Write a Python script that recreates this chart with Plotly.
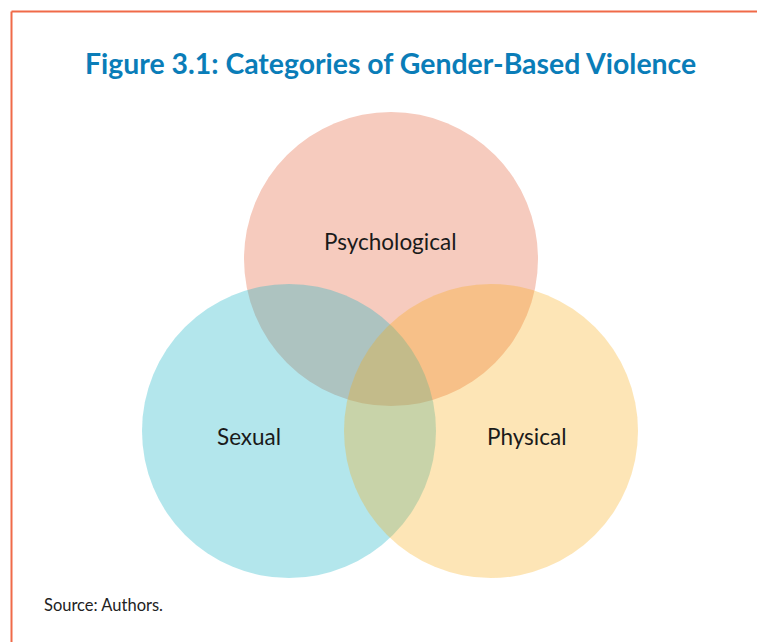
import plotly.graph_objects as go

# ---- data ----
categories = ["Psychological", "Sexual", "Physical"]
center_x = [391, 289, 491]
center_y = [383, 211, 211]
radius = [147, 147, 147]
fill_colors = ["rgba(246,203,190,1)", "rgba(24,179,197,0.33)", "rgba(248,168,12,0.30)"]
label_x = [390, 249, 527]
label_y = [401, 206, 206]

title_text = "Figure 3.1: Categories of Gender-Based Violence"
source_text = "Source: Authors."

W, H = 757, 642

fig = go.Figure()

shapes = []
for cx, cy, r, col in zip(center_x, center_y, radius, fill_colors):
    shapes.append(dict(type="circle", xref="x", yref="y",
                       x0=cx - r, x1=cx + r, y0=cy - r, y1=cy + r,
                       fillcolor=col, line=dict(width=0), layer="above"))

# orange frame (left and top)
shapes.append(dict(type="line", xref="paper", yref="paper", x0=11.5 / W, x1=11.5 / W,
                   y0=0, y1=1 - 11.5 / H, line=dict(color="#F06A48", width=2)))
shapes.append(dict(type="line", xref="paper", yref="paper", x0=11.5 / W, x1=1,
                   y0=1 - 11.5 / H, y1=1 - 11.5 / H, line=dict(color="#F06A48", width=2)))

# invisible trace so the axes exist
fig.add_trace(go.Scatter(x=center_x, y=center_y, mode="markers", marker=dict(opacity=0),
                         hoverinfo="skip", showlegend=False))

annotations = [
    dict(text="<b>" + title_text + "</b>", x=390 / W, y=1 - 63 / H, xref="paper", yref="paper",
         xanchor="center", yanchor="middle", showarrow=False,
         font=dict(family="Lato", size=28.4, color="#0A7DB8")),
    dict(text=source_text, x=42 / W, y=1 - 605 / H, xref="paper", yref="paper",
         xanchor="left", yanchor="middle", showarrow=False,
         font=dict(family="Lato", size=16.5, color="#222222")),
]
for name, lx, ly in zip(categories, label_x, label_y):
    annotations.append(dict(text=name, x=lx, y=ly, xref="x", yref="y",
                            xanchor="center", yanchor="middle", showarrow=False,
                            font=dict(family="Lato", size=22.5, color="#1a1a1a")))

fig.update_layout(
    width=W, height=H, margin=dict(l=0, r=0, t=0, b=0),
    paper_bgcolor="white", plot_bgcolor="white",
    xaxis=dict(range=[0, W], visible=False, fixedrange=True),
    yaxis=dict(range=[0, H], visible=False, fixedrange=True),
    shapes=shapes, annotations=annotations, showlegend=False,
)

fig.write_html("out.html", config={"displayModeBar": False, "staticPlot": True},
               post_script="document.body.style.margin='0px';document.body.style.overflow='hidden';")
